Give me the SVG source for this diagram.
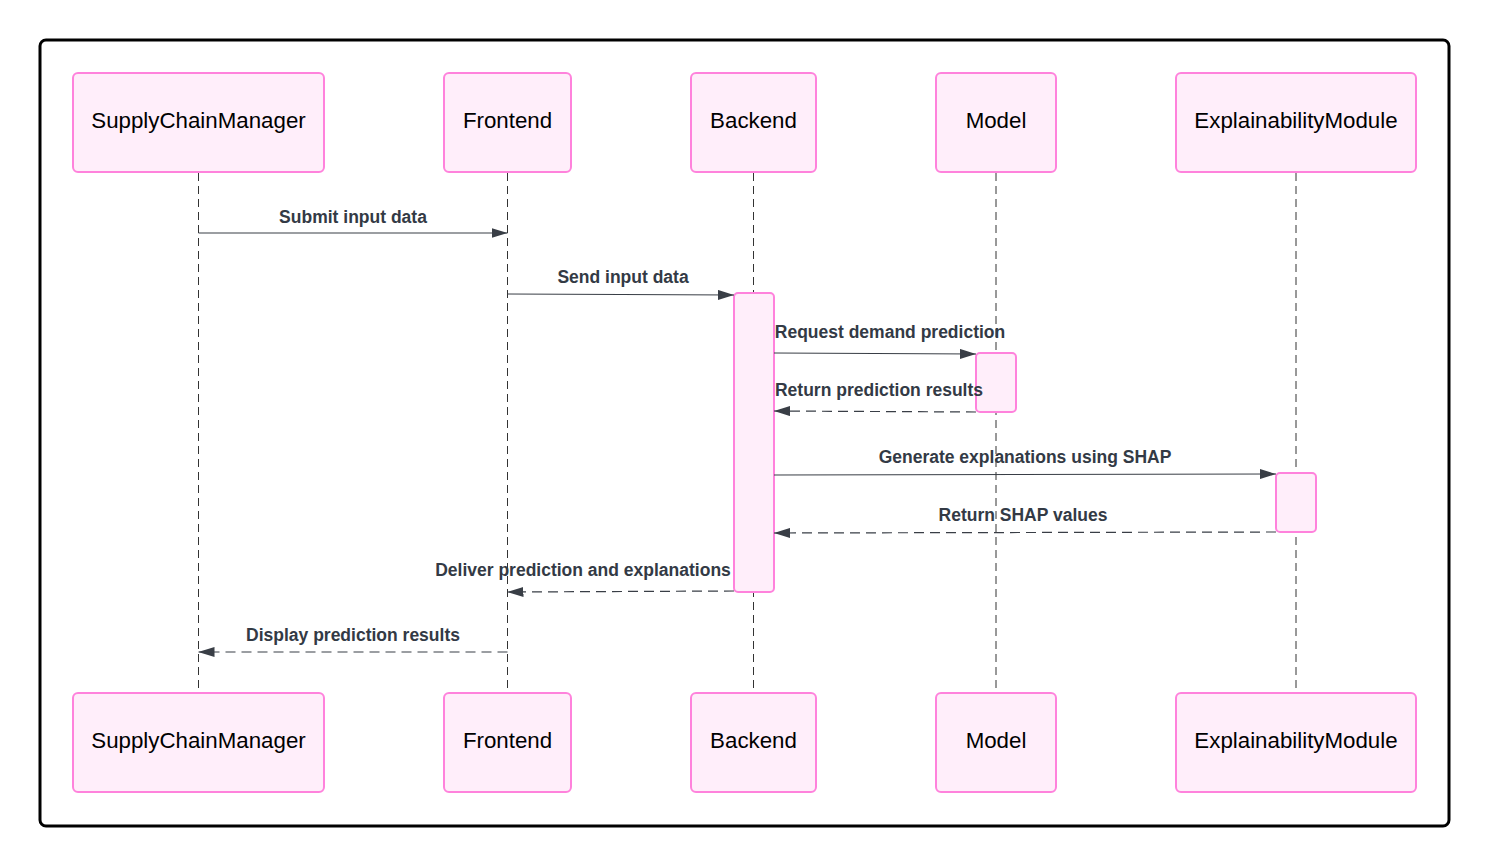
<svg xmlns="http://www.w3.org/2000/svg" width="1490" height="866" viewBox="0 0 1490 866">
<style>
.actor{fill:#ffeefa;stroke:#ff82dc;stroke-width:2}
.act{fill:#ffeefa;stroke:#ff82dc;stroke-width:2}
.an{font-family:"Liberation Sans",Arial,sans-serif;font-size:22.3px;fill:#000;text-anchor:middle;dominant-baseline:central}
.life{stroke:#333;stroke-width:1;stroke-dasharray:8,5;fill:none}
.msg{stroke:#393e46;stroke-width:1.2;fill:none}
.dash{stroke-dasharray:10,6}
.ml{font-family:"Liberation Sans",Arial,sans-serif;font-size:17.5px;font-weight:bold;fill:#333a45;text-anchor:middle}
</style>
<defs>
<marker id="ah" viewBox="0 0 16 10" refX="16" refY="5" markerWidth="16" markerHeight="10" markerUnits="userSpaceOnUse" orient="auto">
<path d="M0,0 L16,5 L0,10 z" fill="#393e46"/>
</marker>
</defs>
<rect x="40" y="40" width="1409" height="786" rx="6" fill="#fff" stroke="#000" stroke-width="3"/>
<g id="lifelines">
<line class="life" x1="198.5" y1="173" x2="198.5" y2="693"/>
<line class="life" x1="507.5" y1="173" x2="507.5" y2="693"/>
<line class="life" x1="753.5" y1="173" x2="753.5" y2="693"/>
<line class="life" x1="996" y1="173" x2="996" y2="693"/>
<line class="life" x1="1296" y1="173" x2="1296" y2="693"/>
</g>
<g id="actor-scm-top"><rect class="actor" x="73" y="73" width="251" height="99" rx="5"/><text class="an" x="198.5" y="120">SupplyChainManager</text></g>
<g id="actor-fe-top"><rect class="actor" x="444" y="73" width="127" height="99" rx="5"/><text class="an" x="507.5" y="120">Frontend</text></g>
<g id="actor-be-top"><rect class="actor" x="691" y="73" width="125" height="99" rx="5"/><text class="an" x="753.5" y="120">Backend</text></g>
<g id="actor-model-top"><rect class="actor" x="936" y="73" width="120" height="99" rx="5"/><text class="an" x="996" y="120">Model</text></g>
<g id="actor-em-top"><rect class="actor" x="1176" y="73" width="240" height="99" rx="5"/><text class="an" x="1296" y="120">ExplainabilityModule</text></g>
<g id="actor-scm-bot"><rect class="actor" x="73" y="693" width="251" height="99" rx="5"/><text class="an" x="198.5" y="740">SupplyChainManager</text></g>
<g id="actor-fe-bot"><rect class="actor" x="444" y="693" width="127" height="99" rx="5"/><text class="an" x="507.5" y="740">Frontend</text></g>
<g id="actor-be-bot"><rect class="actor" x="691" y="693" width="125" height="99" rx="5"/><text class="an" x="753.5" y="740">Backend</text></g>
<g id="actor-model-bot"><rect class="actor" x="936" y="693" width="120" height="99" rx="5"/><text class="an" x="996" y="740">Model</text></g>
<g id="actor-em-bot"><rect class="actor" x="1176" y="693" width="240" height="99" rx="5"/><text class="an" x="1296" y="740">ExplainabilityModule</text></g>
<g id="activation-be"><rect class="act" x="734" y="293" width="40" height="299" rx="4"/></g>
<g id="activation-model"><rect class="act" x="976" y="353" width="40" height="59" rx="4"/></g>
<g id="activation-em"><rect class="act" x="1276" y="473" width="40" height="59" rx="4"/></g>
<g id="connectors">
<line class="msg" x1="198.5" y1="233" x2="507.5" y2="233" marker-end="url(#ah)"/>
<text class="ml" x="353" y="223">Submit input data</text>
<line class="msg" x1="507.5" y1="294" x2="734" y2="295" marker-end="url(#ah)"/>
<text class="ml" x="623" y="283">Send input data</text>
<line class="msg" x1="774" y1="353" x2="976" y2="354" marker-end="url(#ah)"/>
<text class="ml" x="890" y="338">Request demand prediction</text>
<line class="msg dash" x1="976" y1="412" x2="774" y2="411" marker-end="url(#ah)"/>
<text class="ml" x="879" y="396">Return prediction results</text>
<line class="msg" x1="774" y1="475" x2="1276" y2="474" marker-end="url(#ah)"/>
<text class="ml" x="1025" y="463">Generate explanations using SHAP</text>
<line class="msg dash" x1="1276" y1="532" x2="774" y2="533" marker-end="url(#ah)"/>
<text class="ml" x="1023" y="521">Return SHAP values</text>
<line class="msg dash" x1="734" y1="591" x2="507.5" y2="592" marker-end="url(#ah)"/>
<text class="ml" x="583" y="576">Deliver prediction and explanations</text>
<line class="msg dash" x1="507.5" y1="652" x2="198.5" y2="652" marker-end="url(#ah)"/>
<text class="ml" x="353" y="641">Display prediction results</text>
</g>
</svg>
